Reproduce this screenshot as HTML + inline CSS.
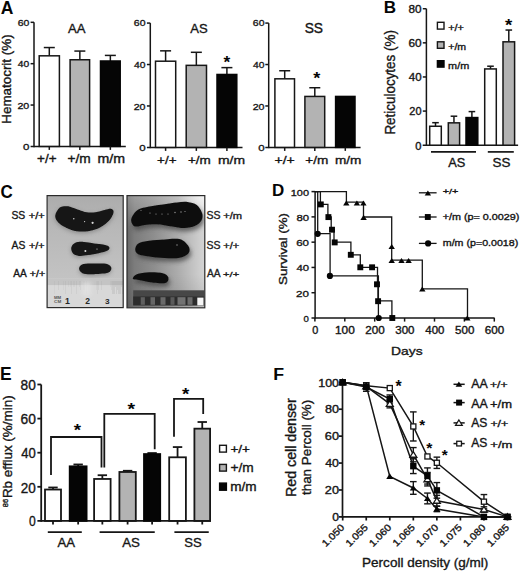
<!DOCTYPE html>
<html><head><meta charset="utf-8"><style>
html,body{margin:0;padding:0;background:#fff;width:520px;height:572px;overflow:hidden}
svg{display:block}
text{font-family:"Liberation Sans",sans-serif}
</style></head><body>
<svg width="520" height="572" viewBox="0 0 520 572">
<rect width="520" height="572" fill="#fff"/>
<line x1="34.00" y1="22.32" x2="34.00" y2="147.15" stroke="#161616" stroke-width="1.50"/>
<line x1="30.60" y1="146.40" x2="125.80" y2="146.40" stroke="#161616" stroke-width="1.50"/>
<line x1="30.60" y1="22.32" x2="34.00" y2="22.32" stroke="#161616" stroke-width="1.50"/>
<line x1="30.60" y1="63.68" x2="34.00" y2="63.68" stroke="#161616" stroke-width="1.50"/>
<line x1="30.60" y1="105.04" x2="34.00" y2="105.04" stroke="#161616" stroke-width="1.50"/>
<text x="17.67" y="25.52" font-size="9.89" textLength="11.64" lengthAdjust="spacingAndGlyphs" fill="#161616" stroke="#161616" stroke-width="0.35">60</text>
<text x="17.86" y="66.89" font-size="9.60" textLength="11.44" lengthAdjust="spacingAndGlyphs" fill="#161616" stroke="#161616" stroke-width="0.35">40</text>
<text x="17.46" y="108.79" font-size="9.75" textLength="11.85" lengthAdjust="spacingAndGlyphs" fill="#161616" stroke="#161616" stroke-width="0.35">20</text>
<text x="22.95" y="150.16" font-size="9.46" textLength="6.40" lengthAdjust="spacingAndGlyphs" fill="#161616" stroke="#161616" stroke-width="0.35">0</text>
<line x1="49.30" y1="55.82" x2="49.30" y2="47.55" stroke="#161616" stroke-width="1.50"/>
<line x1="43.80" y1="47.55" x2="54.80" y2="47.55" stroke="#161616" stroke-width="1.50"/>
<rect x="39.20" y="55.82" width="20.20" height="90.58" fill="#fff" stroke="#161616" stroke-width="1.50"/>
<line x1="49.30" y1="146.40" x2="49.30" y2="149.90" stroke="#161616" stroke-width="1.50"/>
<line x1="79.85" y1="59.75" x2="79.85" y2="51.07" stroke="#161616" stroke-width="1.50"/>
<line x1="74.35" y1="51.07" x2="85.35" y2="51.07" stroke="#161616" stroke-width="1.50"/>
<rect x="70.10" y="59.75" width="19.50" height="86.65" fill="#b3b3b3" stroke="#161616" stroke-width="1.50"/>
<line x1="79.85" y1="146.40" x2="79.85" y2="149.90" stroke="#161616" stroke-width="1.50"/>
<line x1="110.35" y1="60.99" x2="110.35" y2="55.41" stroke="#161616" stroke-width="1.50"/>
<line x1="104.85" y1="55.41" x2="115.85" y2="55.41" stroke="#161616" stroke-width="1.50"/>
<rect x="100.50" y="60.99" width="19.70" height="85.41" fill="#050505" stroke="#050505" stroke-width="1.50"/>
<line x1="110.35" y1="146.40" x2="110.35" y2="149.90" stroke="#161616" stroke-width="1.50"/>
<text x="67.97" y="32.60" font-size="13.52" textLength="17.45" lengthAdjust="spacingAndGlyphs" fill="#161616" stroke="#161616" stroke-width="0.35">AA</text>
<text x="37.14" y="163.48" font-size="11.85" textLength="19.42" lengthAdjust="spacingAndGlyphs" fill="#161616" stroke="#161616" stroke-width="0.35">+/+</text>
<text x="67.53" y="163.48" font-size="11.85" textLength="23.28" lengthAdjust="spacingAndGlyphs" fill="#161616" stroke="#161616" stroke-width="0.35">+/m</text>
<text x="97.46" y="163.48" font-size="11.85" textLength="27.58" lengthAdjust="spacingAndGlyphs" fill="#161616" stroke="#161616" stroke-width="0.35">m/m</text>
<line x1="150.30" y1="23.08" x2="150.30" y2="148.15" stroke="#161616" stroke-width="1.50"/>
<line x1="146.90" y1="147.40" x2="242.50" y2="147.40" stroke="#161616" stroke-width="1.50"/>
<line x1="146.90" y1="23.08" x2="150.30" y2="23.08" stroke="#161616" stroke-width="1.50"/>
<line x1="146.90" y1="64.52" x2="150.30" y2="64.52" stroke="#161616" stroke-width="1.50"/>
<line x1="146.90" y1="105.96" x2="150.30" y2="105.96" stroke="#161616" stroke-width="1.50"/>
<text x="133.87" y="26.28" font-size="9.89" textLength="11.64" lengthAdjust="spacingAndGlyphs" fill="#161616" stroke="#161616" stroke-width="0.35">60</text>
<text x="134.06" y="67.73" font-size="9.60" textLength="11.44" lengthAdjust="spacingAndGlyphs" fill="#161616" stroke="#161616" stroke-width="0.35">40</text>
<text x="133.66" y="109.71" font-size="9.75" textLength="11.85" lengthAdjust="spacingAndGlyphs" fill="#161616" stroke="#161616" stroke-width="0.35">20</text>
<text x="139.15" y="151.16" font-size="9.46" textLength="6.40" lengthAdjust="spacingAndGlyphs" fill="#161616" stroke="#161616" stroke-width="0.35">0</text>
<line x1="165.60" y1="61.20" x2="165.60" y2="50.84" stroke="#161616" stroke-width="1.50"/>
<line x1="160.10" y1="50.84" x2="171.10" y2="50.84" stroke="#161616" stroke-width="1.50"/>
<rect x="155.50" y="61.20" width="20.20" height="86.20" fill="#fff" stroke="#161616" stroke-width="1.50"/>
<line x1="165.60" y1="147.40" x2="165.60" y2="150.90" stroke="#161616" stroke-width="1.50"/>
<line x1="196.35" y1="65.35" x2="196.35" y2="52.30" stroke="#161616" stroke-width="1.50"/>
<line x1="190.85" y1="52.30" x2="201.85" y2="52.30" stroke="#161616" stroke-width="1.50"/>
<rect x="186.20" y="65.35" width="20.30" height="82.05" fill="#b3b3b3" stroke="#161616" stroke-width="1.50"/>
<line x1="196.35" y1="147.40" x2="196.35" y2="150.90" stroke="#161616" stroke-width="1.50"/>
<line x1="226.90" y1="74.47" x2="226.90" y2="67.63" stroke="#161616" stroke-width="1.50"/>
<line x1="221.40" y1="67.63" x2="232.40" y2="67.63" stroke="#161616" stroke-width="1.50"/>
<rect x="217.00" y="74.47" width="19.80" height="72.93" fill="#050505" stroke="#050505" stroke-width="1.50"/>
<line x1="226.90" y1="147.40" x2="226.90" y2="150.90" stroke="#161616" stroke-width="1.50"/>
<text x="190.27" y="32.57" font-size="13.70" textLength="17.43" lengthAdjust="spacingAndGlyphs" fill="#161616" stroke="#161616" stroke-width="0.35">AS</text>
<text x="157.14" y="163.69" font-size="11.44" textLength="19.42" lengthAdjust="spacingAndGlyphs" fill="#161616" stroke="#161616" stroke-width="0.35">+/+</text>
<text x="187.94" y="163.69" font-size="11.44" textLength="22.85" lengthAdjust="spacingAndGlyphs" fill="#161616" stroke="#161616" stroke-width="0.35">+/m</text>
<text x="217.98" y="163.69" font-size="11.44" textLength="27.04" lengthAdjust="spacingAndGlyphs" fill="#161616" stroke="#161616" stroke-width="0.35">m/m</text>
<line x1="268.70" y1="23.08" x2="268.70" y2="148.15" stroke="#161616" stroke-width="1.50"/>
<line x1="265.30" y1="147.40" x2="360.60" y2="147.40" stroke="#161616" stroke-width="1.50"/>
<line x1="265.30" y1="23.08" x2="268.70" y2="23.08" stroke="#161616" stroke-width="1.50"/>
<line x1="265.30" y1="64.52" x2="268.70" y2="64.52" stroke="#161616" stroke-width="1.50"/>
<line x1="265.30" y1="105.96" x2="268.70" y2="105.96" stroke="#161616" stroke-width="1.50"/>
<text x="252.87" y="26.28" font-size="9.89" textLength="11.64" lengthAdjust="spacingAndGlyphs" fill="#161616" stroke="#161616" stroke-width="0.35">60</text>
<text x="253.06" y="67.73" font-size="9.60" textLength="11.44" lengthAdjust="spacingAndGlyphs" fill="#161616" stroke="#161616" stroke-width="0.35">40</text>
<text x="252.66" y="109.71" font-size="9.75" textLength="11.85" lengthAdjust="spacingAndGlyphs" fill="#161616" stroke="#161616" stroke-width="0.35">20</text>
<text x="258.15" y="151.16" font-size="9.46" textLength="6.40" lengthAdjust="spacingAndGlyphs" fill="#161616" stroke="#161616" stroke-width="0.35">0</text>
<line x1="284.70" y1="78.82" x2="284.70" y2="70.74" stroke="#161616" stroke-width="1.50"/>
<line x1="279.20" y1="70.74" x2="290.20" y2="70.74" stroke="#161616" stroke-width="1.50"/>
<rect x="274.90" y="78.82" width="19.60" height="68.58" fill="#fff" stroke="#161616" stroke-width="1.50"/>
<line x1="284.70" y1="147.40" x2="284.70" y2="150.90" stroke="#161616" stroke-width="1.50"/>
<line x1="314.80" y1="96.43" x2="314.80" y2="87.73" stroke="#161616" stroke-width="1.50"/>
<line x1="309.30" y1="87.73" x2="320.30" y2="87.73" stroke="#161616" stroke-width="1.50"/>
<rect x="304.90" y="96.43" width="19.80" height="50.97" fill="#b3b3b3" stroke="#161616" stroke-width="1.50"/>
<line x1="314.80" y1="147.40" x2="314.80" y2="150.90" stroke="#161616" stroke-width="1.50"/>
<rect x="335.60" y="96.43" width="19.40" height="50.97" fill="#050505" stroke="#050505" stroke-width="1.50"/>
<line x1="345.30" y1="147.40" x2="345.30" y2="150.90" stroke="#161616" stroke-width="1.50"/>
<text x="304.68" y="32.56" font-size="14.12" textLength="18.36" lengthAdjust="spacingAndGlyphs" fill="#161616" stroke="#161616" stroke-width="0.35">SS</text>
<text x="274.41" y="163.79" font-size="11.44" textLength="20.38" lengthAdjust="spacingAndGlyphs" fill="#161616" stroke="#161616" stroke-width="0.35">+/+</text>
<text x="305.24" y="163.79" font-size="11.44" textLength="23.06" lengthAdjust="spacingAndGlyphs" fill="#161616" stroke="#161616" stroke-width="0.35">+/m</text>
<text x="335.00" y="163.79" font-size="11.44" textLength="26.40" lengthAdjust="spacingAndGlyphs" fill="#161616" stroke="#161616" stroke-width="0.35">m/m</text>
<text x="223.55" y="67.69" font-size="16.13" textLength="6.77" lengthAdjust="spacingAndGlyphs" font-weight="bold" fill="#050505">*</text>
<text x="313.35" y="83.82" font-size="15.59" textLength="7.07" lengthAdjust="spacingAndGlyphs" font-weight="bold" fill="#050505">*</text>
<text x="10.61" y="123.70" font-size="12.02" textLength="89.33" lengthAdjust="spacingAndGlyphs" transform="rotate(-90 10.61 123.70)" fill="#161616" stroke="#161616" stroke-width="0.35">Hematocrit (%)</text>
<text x="0.81" y="13.60" font-size="17.95" textLength="12.65" lengthAdjust="spacingAndGlyphs" font-weight="bold" fill="#050505">A</text>
<line x1="426.40" y1="8.72" x2="426.40" y2="145.95" stroke="#161616" stroke-width="1.50"/>
<line x1="422.70" y1="145.20" x2="518.10" y2="145.20" stroke="#161616" stroke-width="1.50"/>
<line x1="422.80" y1="8.72" x2="426.40" y2="8.72" stroke="#161616" stroke-width="1.50"/>
<line x1="422.80" y1="42.84" x2="426.40" y2="42.84" stroke="#161616" stroke-width="1.50"/>
<line x1="422.80" y1="76.96" x2="426.40" y2="76.96" stroke="#161616" stroke-width="1.50"/>
<line x1="422.80" y1="111.08" x2="426.40" y2="111.08" stroke="#161616" stroke-width="1.50"/>
<text x="408.49" y="13.07" font-size="10.31" textLength="13.07" lengthAdjust="spacingAndGlyphs" fill="#161616" stroke="#161616" stroke-width="0.35">80</text>
<text x="408.40" y="47.29" font-size="10.31" textLength="13.16" lengthAdjust="spacingAndGlyphs" fill="#161616" stroke="#161616" stroke-width="0.35">60</text>
<text x="408.74" y="81.41" font-size="10.31" textLength="12.81" lengthAdjust="spacingAndGlyphs" fill="#161616" stroke="#161616" stroke-width="0.35">40</text>
<text x="409.35" y="115.43" font-size="10.31" textLength="12.18" lengthAdjust="spacingAndGlyphs" fill="#161616" stroke="#161616" stroke-width="0.35">20</text>
<text x="415.37" y="150.15" font-size="10.31" textLength="6.17" lengthAdjust="spacingAndGlyphs" fill="#161616" stroke="#161616" stroke-width="0.35">0</text>
<line x1="435.50" y1="126.26" x2="435.50" y2="122.68" stroke="#161616" stroke-width="1.50"/>
<line x1="432.20" y1="122.68" x2="438.80" y2="122.68" stroke="#161616" stroke-width="1.50"/>
<rect x="429.70" y="126.26" width="11.60" height="18.94" fill="#fff" stroke="#161616" stroke-width="1.50"/>
<line x1="453.95" y1="122.85" x2="453.95" y2="116.20" stroke="#161616" stroke-width="1.50"/>
<line x1="450.65" y1="116.20" x2="457.25" y2="116.20" stroke="#161616" stroke-width="1.50"/>
<rect x="448.30" y="122.85" width="11.30" height="22.35" fill="#b3b3b3" stroke="#161616" stroke-width="1.50"/>
<line x1="471.90" y1="117.56" x2="471.90" y2="111.59" stroke="#161616" stroke-width="1.50"/>
<line x1="468.60" y1="111.59" x2="475.20" y2="111.59" stroke="#161616" stroke-width="1.50"/>
<rect x="466.00" y="117.56" width="11.80" height="27.64" fill="#050505" stroke="#050505" stroke-width="1.50"/>
<line x1="490.50" y1="68.94" x2="490.50" y2="66.21" stroke="#161616" stroke-width="1.50"/>
<line x1="487.20" y1="66.21" x2="493.80" y2="66.21" stroke="#161616" stroke-width="1.50"/>
<rect x="484.70" y="68.94" width="11.60" height="76.26" fill="#fff" stroke="#161616" stroke-width="1.50"/>
<line x1="508.80" y1="41.82" x2="508.80" y2="30.04" stroke="#161616" stroke-width="1.50"/>
<line x1="505.50" y1="30.04" x2="512.10" y2="30.04" stroke="#161616" stroke-width="1.50"/>
<rect x="503.00" y="41.82" width="11.60" height="103.38" fill="#b3b3b3" stroke="#161616" stroke-width="1.50"/>
<text x="505.05" y="31.05" font-size="16.93" textLength="7.27" lengthAdjust="spacingAndGlyphs" font-weight="bold" fill="#050505">*</text>
<line x1="431.00" y1="151.90" x2="476.00" y2="151.90" stroke="#161616" stroke-width="1.70"/>
<line x1="487.80" y1="151.90" x2="513.80" y2="151.90" stroke="#161616" stroke-width="1.70"/>
<text x="448.17" y="166.68" font-size="12.57" textLength="17.11" lengthAdjust="spacingAndGlyphs" fill="#161616" stroke="#161616" stroke-width="0.35">AS</text>
<text x="492.59" y="166.68" font-size="12.57" textLength="17.93" lengthAdjust="spacingAndGlyphs" fill="#161616" stroke="#161616" stroke-width="0.35">SS</text>
<rect x="437.40" y="22.30" width="6.60" height="6.80" fill="#fff" stroke="#161616" stroke-width="1.40"/>
<rect x="437.40" y="41.80" width="6.60" height="6.50" fill="#b3b3b3" stroke="#161616" stroke-width="1.40"/>
<rect x="437.40" y="60.70" width="6.60" height="6.40" fill="#050505" stroke="#050505" stroke-width="1.40"/>
<text x="448.27" y="31.21" font-size="9.26" textLength="15.66" lengthAdjust="spacingAndGlyphs" fill="#161616" stroke="#161616" stroke-width="0.35">+/+</text>
<text x="448.28" y="50.01" font-size="9.40" textLength="17.91" lengthAdjust="spacingAndGlyphs" fill="#161616" stroke="#161616" stroke-width="0.35">+/m</text>
<text x="448.08" y="68.91" font-size="9.53" textLength="21.14" lengthAdjust="spacingAndGlyphs" fill="#161616" stroke="#161616" stroke-width="0.35">m/m</text>
<text x="395.28" y="134.60" font-size="14.05" textLength="104.54" lengthAdjust="spacingAndGlyphs" transform="rotate(-90 395.28 134.60)" fill="#161616" stroke="#161616" stroke-width="0.35">Reticulocytes (%)</text>
<text x="383.76" y="13.40" font-size="17.30" textLength="12.32" lengthAdjust="spacingAndGlyphs" font-weight="bold" fill="#050505">B</text>
<defs>
<linearGradient id="gl" x1="0" y1="0" x2="0" y2="1">
 <stop offset="0" stop-color="#acacac"/><stop offset="0.3" stop-color="#b8b8b8"/><stop offset="0.7" stop-color="#c2c2c2"/><stop offset="1" stop-color="#c8c8c8"/>
</linearGradient>
<linearGradient id="gr" x1="0" y1="0" x2="1" y2="0">
 <stop offset="0" stop-color="#666"/><stop offset="0.1" stop-color="#7c7c7c"/><stop offset="0.35" stop-color="#8e8e8e"/><stop offset="0.65" stop-color="#acacac"/><stop offset="1" stop-color="#d6d6d6"/>
</linearGradient>
<linearGradient id="grv" x1="0" y1="0" x2="0" y2="1">
 <stop offset="0" stop-color="#fff" stop-opacity="0.25"/><stop offset="0.3" stop-color="#fff" stop-opacity="0"/><stop offset="0.7" stop-color="#000" stop-opacity="0"/><stop offset="1" stop-color="#000" stop-opacity="0.12"/>
</linearGradient>
<radialGradient id="grh" cx="1" cy="0" r="0.5">
 <stop offset="0" stop-color="#fff" stop-opacity="0.7"/><stop offset="1" stop-color="#fff" stop-opacity="0"/>
</radialGradient>
<filter id="b1" x="-20%" y="-20%" width="140%" height="140%"><feGaussianBlur stdDeviation="0.7"/></filter>
<filter id="b3" x="-30%" y="-30%" width="160%" height="160%"><feGaussianBlur stdDeviation="2.2"/></filter>
<clipPath id="cpl"><rect x="47.3" y="195.7" width="75.8" height="111.9"/></clipPath>
<clipPath id="cpr"><rect x="127" y="195.7" width="77.8" height="111.9"/></clipPath>
</defs>
<g clip-path="url(#cpl)">
<rect x="47" y="195.5" width="76.5" height="112.5" fill="url(#gl)"/>
<path d="M55.30,216.80 C55.67,214.55 57.80,210.80 59.50,209.30 C61.20,207.80 63.75,207.98 65.50,207.80 C67.25,207.62 67.73,207.58 70.00,208.20 C72.27,208.82 76.33,210.57 79.10,211.50 C81.87,212.43 83.85,213.42 86.60,213.80 C89.35,214.18 92.60,214.18 95.60,213.80 C98.60,213.42 102.08,212.08 104.60,211.50 C107.12,210.92 109.23,210.17 110.70,210.30 C112.17,210.43 113.03,211.35 113.40,212.30 C113.77,213.25 113.62,214.37 112.90,216.00 C112.18,217.63 110.98,220.08 109.10,222.10 C107.22,224.12 104.35,226.48 101.60,228.10 C98.85,229.72 95.85,230.98 92.60,231.80 C89.35,232.62 85.60,233.07 82.10,233.00 C78.60,232.93 74.87,232.35 71.60,231.40 C68.33,230.45 64.88,228.73 62.50,227.30 C60.12,225.87 58.50,224.55 57.30,222.80 C56.10,221.05 54.93,219.05 55.30,216.80 Z" fill="#5a5a5a" opacity="0.5" filter="url(#b3)"/>
<path d="M71.30,249.10 C71.67,247.30 73.25,245.25 75.30,244.30 C77.35,243.35 80.47,243.30 83.60,243.40 C86.73,243.50 90.85,244.45 94.10,244.90 C97.35,245.35 100.60,245.52 103.10,246.10 C105.60,246.68 108.35,247.40 109.10,248.40 C109.85,249.40 109.35,251.03 107.60,252.10 C105.85,253.17 101.85,254.05 98.60,254.80 C95.35,255.55 91.35,256.17 88.10,256.60 C84.85,257.03 81.60,257.65 79.10,257.40 C76.60,257.15 74.40,256.48 73.10,255.10 C71.80,253.72 70.93,250.90 71.30,249.10 Z" fill="#5a5a5a" opacity="0.5" filter="url(#b3)"/>
<path d="M79.10,270.20 C79.03,268.75 80.28,266.85 82.10,266.00 C83.92,265.15 87.02,265.25 90.00,265.10 C92.98,264.95 97.07,265.00 100.00,265.10 C102.93,265.20 105.70,264.98 107.60,265.70 C109.50,266.42 111.25,268.02 111.40,269.40 C111.55,270.78 110.40,273.02 108.50,274.00 C106.60,274.98 103.08,275.02 100.00,275.30 C96.92,275.58 92.92,275.80 90.00,275.70 C87.08,275.60 84.32,275.62 82.50,274.70 C80.68,273.78 79.17,271.65 79.10,270.20 Z" fill="#5a5a5a" opacity="0.5" filter="url(#b3)"/>
<path d="M55.30,215.30 C55.67,213.05 57.80,209.30 59.50,207.80 C61.20,206.30 63.75,206.48 65.50,206.30 C67.25,206.12 67.73,206.08 70.00,206.70 C72.27,207.32 76.33,209.07 79.10,210.00 C81.87,210.93 83.85,211.92 86.60,212.30 C89.35,212.68 92.60,212.68 95.60,212.30 C98.60,211.92 102.08,210.58 104.60,210.00 C107.12,209.42 109.23,208.67 110.70,208.80 C112.17,208.93 113.03,209.85 113.40,210.80 C113.77,211.75 113.62,212.87 112.90,214.50 C112.18,216.13 110.98,218.58 109.10,220.60 C107.22,222.62 104.35,224.98 101.60,226.60 C98.85,228.22 95.85,229.48 92.60,230.30 C89.35,231.12 85.60,231.57 82.10,231.50 C78.60,231.43 74.87,230.85 71.60,229.90 C68.33,228.95 64.88,227.23 62.50,225.80 C60.12,224.37 58.50,223.05 57.30,221.30 C56.10,219.55 54.93,217.55 55.30,215.30 Z" fill="#131313" filter="url(#b1)"/>
<path d="M71.30,247.60 C71.67,245.80 73.25,243.75 75.30,242.80 C77.35,241.85 80.47,241.80 83.60,241.90 C86.73,242.00 90.85,242.95 94.10,243.40 C97.35,243.85 100.60,244.02 103.10,244.60 C105.60,245.18 108.35,245.90 109.10,246.90 C109.85,247.90 109.35,249.53 107.60,250.60 C105.85,251.67 101.85,252.55 98.60,253.30 C95.35,254.05 91.35,254.67 88.10,255.10 C84.85,255.53 81.60,256.15 79.10,255.90 C76.60,255.65 74.40,254.98 73.10,253.60 C71.80,252.22 70.93,249.40 71.30,247.60 Z" fill="#131313" filter="url(#b1)"/>
<path d="M79.10,268.70 C79.03,267.25 80.28,265.35 82.10,264.50 C83.92,263.65 87.02,263.75 90.00,263.60 C92.98,263.45 97.07,263.50 100.00,263.60 C102.93,263.70 105.70,263.48 107.60,264.20 C109.50,264.92 111.25,266.52 111.40,267.90 C111.55,269.28 110.40,271.52 108.50,272.50 C106.60,273.48 103.08,273.52 100.00,273.80 C96.92,274.08 92.92,274.30 90.00,274.20 C87.08,274.10 84.32,274.12 82.50,273.20 C80.68,272.28 79.17,270.15 79.10,268.70 Z" fill="#131313" filter="url(#b1)"/>
<circle cx="92.6" cy="222.8" r="1.1" fill="#d8d8d8" filter="url(#b1)"/>
<circle cx="73.8" cy="218.8" r="0.7" fill="#d8d8d8" filter="url(#b1)"/>
<circle cx="85.4" cy="250.9" r="1.0" fill="#d8d8d8" filter="url(#b1)"/>
<circle cx="84.6" cy="221.6" r="0.6" fill="#d8d8d8" filter="url(#b1)"/>
<circle cx="97.0" cy="249.0" r="0.6" fill="#d8d8d8" filter="url(#b1)"/>
<rect x="47" y="278.6" width="77" height="30" fill="#d8d8d8"/>
<rect x="47" y="278.6" width="77" height="6.5" fill="#c4c4c4" filter="url(#b1)"/>
<line x1="54.5" y1="281" x2="54.5" y2="294.0" stroke="#8a8a8a" stroke-width="0.6" opacity="0.12"/>
<line x1="58.5" y1="281" x2="58.5" y2="290.0" stroke="#8a8a8a" stroke-width="0.6" opacity="0.20"/>
<line x1="63.5" y1="281" x2="63.5" y2="290.0" stroke="#8a8a8a" stroke-width="0.6" opacity="0.12"/>
<line x1="65.5" y1="281" x2="65.5" y2="294.0" stroke="#8a8a8a" stroke-width="0.6" opacity="0.20"/>
<line x1="68.5" y1="281" x2="68.5" y2="287.0" stroke="#8a8a8a" stroke-width="0.6" opacity="0.12"/>
<line x1="70.5" y1="281" x2="70.5" y2="287.0" stroke="#8a8a8a" stroke-width="0.6" opacity="0.12"/>
<line x1="71.5" y1="281" x2="71.5" y2="294.0" stroke="#8a8a8a" stroke-width="0.6" opacity="0.20"/>
<line x1="73.5" y1="281" x2="73.5" y2="287.0" stroke="#8a8a8a" stroke-width="0.6" opacity="0.12"/>
<line x1="74.5" y1="281" x2="74.5" y2="287.0" stroke="#8a8a8a" stroke-width="0.6" opacity="0.12"/>
<line x1="76.5" y1="281" x2="76.5" y2="294.0" stroke="#8a8a8a" stroke-width="0.6" opacity="0.20"/>
<line x1="79.5" y1="281" x2="79.5" y2="287.0" stroke="#8a8a8a" stroke-width="0.6" opacity="0.20"/>
<line x1="80.5" y1="281" x2="80.5" y2="290.0" stroke="#8a8a8a" stroke-width="0.6" opacity="0.20"/>
<line x1="83.5" y1="281" x2="83.5" y2="290.0" stroke="#8a8a8a" stroke-width="0.6" opacity="0.12"/>
<line x1="84.5" y1="281" x2="84.5" y2="290.0" stroke="#8a8a8a" stroke-width="0.6" opacity="0.12"/>
<line x1="86.5" y1="281" x2="86.5" y2="294.0" stroke="#8a8a8a" stroke-width="0.6" opacity="0.12"/>
<line x1="96.5" y1="281" x2="96.5" y2="290.0" stroke="#8a8a8a" stroke-width="0.6" opacity="0.12"/>
<line x1="97.5" y1="281" x2="97.5" y2="294.0" stroke="#8a8a8a" stroke-width="0.6" opacity="0.20"/>
<line x1="98.5" y1="281" x2="98.5" y2="290.0" stroke="#8a8a8a" stroke-width="0.6" opacity="0.20"/>
<line x1="101.5" y1="281" x2="101.5" y2="290.0" stroke="#8a8a8a" stroke-width="0.6" opacity="0.20"/>
<line x1="110.5" y1="281" x2="110.5" y2="287.0" stroke="#8a8a8a" stroke-width="0.6" opacity="0.12"/>
<line x1="111.5" y1="281" x2="111.5" y2="290.0" stroke="#8a8a8a" stroke-width="0.6" opacity="0.20"/>
<line x1="112.5" y1="281" x2="112.5" y2="294.0" stroke="#8a8a8a" stroke-width="0.6" opacity="0.30"/>
<line x1="113.5" y1="281" x2="113.5" y2="294.0" stroke="#8a8a8a" stroke-width="0.6" opacity="0.30"/>
<line x1="114.5" y1="281" x2="114.5" y2="294.0" stroke="#8a8a8a" stroke-width="0.6" opacity="0.30"/>
<line x1="115.5" y1="281" x2="115.5" y2="287.0" stroke="#8a8a8a" stroke-width="0.6" opacity="0.30"/>
<line x1="116.5" y1="281" x2="116.5" y2="294.0" stroke="#8a8a8a" stroke-width="0.6" opacity="0.30"/>
<line x1="117.5" y1="281" x2="117.5" y2="290.0" stroke="#8a8a8a" stroke-width="0.6" opacity="0.30"/>
<line x1="118.5" y1="281" x2="118.5" y2="294.0" stroke="#8a8a8a" stroke-width="0.6" opacity="0.30"/>
<line x1="119.5" y1="281" x2="119.5" y2="294.0" stroke="#8a8a8a" stroke-width="0.6" opacity="0.30"/>
<line x1="120.5" y1="281" x2="120.5" y2="294.0" stroke="#8a8a8a" stroke-width="0.6" opacity="0.30"/>
<line x1="121.5" y1="281" x2="121.5" y2="287.0" stroke="#8a8a8a" stroke-width="0.6" opacity="0.30"/>
<line x1="122.5" y1="281" x2="122.5" y2="294.0" stroke="#8a8a8a" stroke-width="0.6" opacity="0.30"/>
<rect x="82" y="282" width="9" height="14" fill="#e4e4e4" opacity="0.7" filter="url(#b3)"/>
</g>
<text x="65.00" y="304.05" font-size="8.29" textLength="4.90" lengthAdjust="spacingAndGlyphs" font-weight="bold" fill="#262626">1</text>
<text x="85.15" y="304.05" font-size="8.16" textLength="4.74" lengthAdjust="spacingAndGlyphs" font-weight="bold" fill="#262626">2</text>
<text x="104.96" y="303.96" font-size="8.03" textLength="4.59" lengthAdjust="spacingAndGlyphs" font-weight="bold" fill="#262626">3</text>
<text x="54.01" y="299.30" font-size="4.36" textLength="7.18" lengthAdjust="spacingAndGlyphs" font-weight="bold" fill="#555">MM</text>
<text x="54.11" y="303.46" font-size="4.24" textLength="7.09" lengthAdjust="spacingAndGlyphs" font-weight="bold" fill="#555">CM</text>
<rect x="47.10" y="195.60" width="76.10" height="112.00" fill="none" stroke="#2a2a2a" stroke-width="1.20"/>
<g clip-path="url(#cpr)">
<rect x="126.5" y="195.5" width="79" height="112.5" fill="url(#gr)"/>
<rect x="126.5" y="195.5" width="79" height="112.5" fill="url(#grv)"/>
<rect x="150" y="195.5" width="56" height="40" fill="url(#grh)"/>
<path d="M132.90,225.40 C132.40,223.73 132.55,222.05 133.70,220.00 C134.85,217.95 136.98,214.77 139.80,213.10 C142.62,211.43 146.23,210.90 150.60,210.00 C154.97,209.10 161.38,208.38 166.00,207.70 C170.62,207.02 174.47,206.28 178.30,205.90 C182.13,205.52 185.67,204.97 189.00,205.40 C192.33,205.83 195.85,206.57 198.30,208.50 C200.75,210.43 202.93,214.43 203.70,217.00 C204.47,219.57 204.07,221.85 202.90,223.90 C201.73,225.95 199.52,228.02 196.70,229.30 C193.88,230.58 189.83,231.48 186.00,231.60 C182.17,231.72 178.32,230.65 173.70,230.00 C169.08,229.35 162.92,227.95 158.30,227.70 C153.68,227.45 149.60,228.12 146.00,228.50 C142.40,228.88 138.88,230.52 136.70,230.00 C134.52,229.48 133.40,227.07 132.90,225.40 Z" fill="#404040" opacity="0.7" filter="url(#b3)"/>
<path d="M136.70,253.10 C136.70,251.32 137.48,248.47 139.80,247.00 C142.12,245.53 146.23,244.95 150.60,244.30 C154.97,243.65 161.65,243.43 166.00,243.10 C170.35,242.77 173.63,242.17 176.70,242.30 C179.77,242.43 182.08,242.48 184.40,243.90 C186.72,245.32 189.70,248.62 190.60,250.80 C191.50,252.98 191.35,255.25 189.80,257.00 C188.25,258.75 185.27,260.53 181.30,261.30 C177.33,262.07 171.12,261.82 166.00,261.60 C160.88,261.38 154.97,260.65 150.60,260.00 C146.23,259.35 142.12,258.85 139.80,257.70 C137.48,256.55 136.70,254.88 136.70,253.10 Z" fill="#404040" opacity="0.7" filter="url(#b3)"/>
<path d="M134.40,281.60 C134.78,280.70 135.60,278.68 138.30,277.70 C141.00,276.72 146.25,275.87 150.60,275.70 C154.95,275.53 161.20,275.85 164.40,276.70 C167.60,277.55 169.28,279.22 169.80,280.80 C170.32,282.38 169.93,285.30 167.50,286.20 C165.07,287.10 159.30,286.58 155.20,286.20 C151.10,285.82 146.10,284.42 142.90,283.90 C139.70,283.38 137.42,283.48 136.00,283.10 C134.58,282.72 134.02,282.50 134.40,281.60 Z" fill="#404040" opacity="0.7" filter="url(#b3)"/>
<path d="M131.40,221.90 C130.90,220.23 131.05,218.55 132.20,216.50 C133.35,214.45 135.48,211.27 138.30,209.60 C141.12,207.93 144.73,207.40 149.10,206.50 C153.47,205.60 159.88,204.88 164.50,204.20 C169.12,203.52 172.97,202.78 176.80,202.40 C180.63,202.02 184.17,201.47 187.50,201.90 C190.83,202.33 194.35,203.07 196.80,205.00 C199.25,206.93 201.43,210.93 202.20,213.50 C202.97,216.07 202.57,218.35 201.40,220.40 C200.23,222.45 198.02,224.52 195.20,225.80 C192.38,227.08 188.33,227.98 184.50,228.10 C180.67,228.22 176.82,227.15 172.20,226.50 C167.58,225.85 161.42,224.45 156.80,224.20 C152.18,223.95 148.10,224.62 144.50,225.00 C140.90,225.38 137.38,227.02 135.20,226.50 C133.02,225.98 131.90,223.57 131.40,221.90 Z" fill="#111" filter="url(#b1)"/>
<path d="M135.20,249.60 C135.20,247.82 135.98,244.97 138.30,243.50 C140.62,242.03 144.73,241.45 149.10,240.80 C153.47,240.15 160.15,239.93 164.50,239.60 C168.85,239.27 172.13,238.67 175.20,238.80 C178.27,238.93 180.58,238.98 182.90,240.40 C185.22,241.82 188.20,245.12 189.10,247.30 C190.00,249.48 189.85,251.75 188.30,253.50 C186.75,255.25 183.77,257.03 179.80,257.80 C175.83,258.57 169.62,258.32 164.50,258.10 C159.38,257.88 153.47,257.15 149.10,256.50 C144.73,255.85 140.62,255.35 138.30,254.20 C135.98,253.05 135.20,251.38 135.20,249.60 Z" fill="#111" filter="url(#b1)"/>
<path d="M132.90,278.10 C133.28,277.20 134.10,275.18 136.80,274.20 C139.50,273.22 144.75,272.37 149.10,272.20 C153.45,272.03 159.70,272.35 162.90,273.20 C166.10,274.05 167.78,275.72 168.30,277.30 C168.82,278.88 168.43,281.80 166.00,282.70 C163.57,283.60 157.80,283.08 153.70,282.70 C149.60,282.32 144.60,280.92 141.40,280.40 C138.20,279.88 135.92,279.98 134.50,279.60 C133.08,279.22 132.52,279.00 132.90,278.10 Z" fill="#111" filter="url(#b1)"/>
<circle cx="150.0" cy="213.0" r="0.6" fill="#9a9a9a" filter="url(#b1)"/>
<circle cx="156.0" cy="214.0" r="0.6" fill="#9a9a9a" filter="url(#b1)"/>
<circle cx="162.0" cy="214.0" r="0.6" fill="#9a9a9a" filter="url(#b1)"/>
<circle cx="168.0" cy="214.0" r="0.6" fill="#9a9a9a" filter="url(#b1)"/>
<circle cx="175.0" cy="212.5" r="0.7" fill="#9a9a9a" filter="url(#b1)"/>
<circle cx="181.0" cy="212.0" r="0.7" fill="#9a9a9a" filter="url(#b1)"/>
<circle cx="185.0" cy="211.5" r="0.6" fill="#9a9a9a" filter="url(#b1)"/>
<circle cx="141.0" cy="210.5" r="0.5" fill="#9a9a9a" filter="url(#b1)"/>
<circle cx="177.0" cy="245.0" r="0.7" fill="#9a9a9a" filter="url(#b1)"/>
<rect x="133.2" y="290.3" width="71" height="15.2" fill="#474747" filter="url(#b1)"/>
<rect x="133.2" y="296.5" width="71" height="8.8" fill="#2c2c2c"/>
<rect x="140.7" y="297.2" width="4.2" height="7.6" fill="#5e5e5e" filter="url(#b1)"/>
<rect x="150.5" y="297.2" width="4.5" height="7.6" fill="#666" filter="url(#b1)"/>
<rect x="160.5" y="297.2" width="5.0" height="7.6" fill="#6a6a6a" filter="url(#b1)"/>
<rect x="170.5" y="297.2" width="4.0" height="7.6" fill="#5a5a5a" filter="url(#b1)"/>
<rect x="177.5" y="297.2" width="8.0" height="7.6" fill="#727272" filter="url(#b1)"/>
<rect x="187.5" y="297.2" width="5.0" height="7.6" fill="#6c6c6c" filter="url(#b1)"/>
<rect x="197.3" y="297.6" width="6.2" height="7.8" fill="#f6f6f6" filter="url(#b1)"/>
</g>
<rect x="127.00" y="195.60" width="77.80" height="112.20" fill="none" stroke="#2a2a2a" stroke-width="1.20"/>
<text x="11.43" y="218.99" font-size="11.02" textLength="13.85" lengthAdjust="spacingAndGlyphs" fill="#161616" stroke="#161616" stroke-width="0.35">SS</text>
<text x="28.76" y="219.21" font-size="8.85" textLength="15.88" lengthAdjust="spacingAndGlyphs" fill="#161616" stroke="#161616" stroke-width="0.35">+/+</text>
<text x="11.58" y="248.59" font-size="11.16" textLength="13.79" lengthAdjust="spacingAndGlyphs" fill="#161616" stroke="#161616" stroke-width="0.35">AS</text>
<text x="28.98" y="248.61" font-size="8.71" textLength="15.45" lengthAdjust="spacingAndGlyphs" fill="#161616" stroke="#161616" stroke-width="0.35">+/+</text>
<text x="13.18" y="276.60" font-size="10.17" textLength="13.54" lengthAdjust="spacingAndGlyphs" fill="#161616" stroke="#161616" stroke-width="0.35">AA</text>
<text x="29.89" y="276.72" font-size="8.58" textLength="15.23" lengthAdjust="spacingAndGlyphs" fill="#161616" stroke="#161616" stroke-width="0.35">+/+</text>
<text x="206.42" y="219.10" font-size="10.31" textLength="14.06" lengthAdjust="spacingAndGlyphs" fill="#222" stroke="#222" stroke-width="0.35">SS</text>
<text x="223.26" y="219.12" font-size="8.58" textLength="18.88" lengthAdjust="spacingAndGlyphs" fill="#222" stroke="#222" stroke-width="0.35">+/m</text>
<text x="206.42" y="248.50" font-size="10.31" textLength="14.06" lengthAdjust="spacingAndGlyphs" fill="#222" stroke="#222" stroke-width="0.35">SS</text>
<text x="223.26" y="248.72" font-size="8.58" textLength="15.88" lengthAdjust="spacingAndGlyphs" fill="#222" stroke="#222" stroke-width="0.35">+/+</text>
<text x="206.88" y="276.90" font-size="10.17" textLength="13.54" lengthAdjust="spacingAndGlyphs" fill="#222" stroke="#222" stroke-width="0.35">AA</text>
<text x="223.06" y="276.92" font-size="8.03" textLength="16.09" lengthAdjust="spacingAndGlyphs" fill="#222" stroke="#222" stroke-width="0.35">+/+</text>
<text x="0.60" y="198.02" font-size="18.08" textLength="12.26" lengthAdjust="spacingAndGlyphs" font-weight="bold" fill="#050505">C</text>
<line x1="315.10" y1="191.60" x2="315.10" y2="318.75" stroke="#161616" stroke-width="1.50"/>
<line x1="311.50" y1="318.00" x2="494.60" y2="318.00" stroke="#161616" stroke-width="1.50"/>
<line x1="311.50" y1="191.60" x2="315.10" y2="191.60" stroke="#161616" stroke-width="1.50"/>
<line x1="311.50" y1="216.88" x2="315.10" y2="216.88" stroke="#161616" stroke-width="1.50"/>
<line x1="311.50" y1="242.16" x2="315.10" y2="242.16" stroke="#161616" stroke-width="1.50"/>
<line x1="311.50" y1="267.44" x2="315.10" y2="267.44" stroke="#161616" stroke-width="1.50"/>
<line x1="311.50" y1="292.72" x2="315.10" y2="292.72" stroke="#161616" stroke-width="1.50"/>
<text x="290.77" y="196.00" font-size="9.89" textLength="18.26" lengthAdjust="spacingAndGlyphs" fill="#161616" stroke="#161616" stroke-width="0.35">100</text>
<text x="296.41" y="220.78" font-size="9.89" textLength="12.64" lengthAdjust="spacingAndGlyphs" fill="#161616" stroke="#161616" stroke-width="0.35">80</text>
<text x="296.21" y="246.06" font-size="9.89" textLength="12.84" lengthAdjust="spacingAndGlyphs" fill="#161616" stroke="#161616" stroke-width="0.35">60</text>
<text x="296.44" y="271.34" font-size="9.89" textLength="12.60" lengthAdjust="spacingAndGlyphs" fill="#161616" stroke="#161616" stroke-width="0.35">40</text>
<text x="296.11" y="296.62" font-size="9.89" textLength="12.94" lengthAdjust="spacingAndGlyphs" fill="#161616" stroke="#161616" stroke-width="0.35">20</text>
<text x="303.62" y="322.20" font-size="9.89" textLength="5.35" lengthAdjust="spacingAndGlyphs" fill="#161616" stroke="#161616" stroke-width="0.35">0</text>
<line x1="314.90" y1="318.00" x2="314.90" y2="321.60" stroke="#161616" stroke-width="1.50"/>
<text x="312.18" y="334.00" font-size="10.03" textLength="6.05" lengthAdjust="spacingAndGlyphs" fill="#161616" stroke="#161616" stroke-width="0.35">0</text>
<line x1="344.80" y1="318.00" x2="344.80" y2="321.60" stroke="#161616" stroke-width="1.50"/>
<text x="335.00" y="334.00" font-size="10.03" textLength="19.77" lengthAdjust="spacingAndGlyphs" fill="#161616" stroke="#161616" stroke-width="0.35">100</text>
<line x1="374.70" y1="318.00" x2="374.70" y2="321.60" stroke="#161616" stroke-width="1.50"/>
<text x="365.21" y="334.00" font-size="10.03" textLength="19.44" lengthAdjust="spacingAndGlyphs" fill="#161616" stroke="#161616" stroke-width="0.35">200</text>
<line x1="404.60" y1="318.00" x2="404.60" y2="321.60" stroke="#161616" stroke-width="1.50"/>
<text x="395.26" y="334.00" font-size="10.03" textLength="19.29" lengthAdjust="spacingAndGlyphs" fill="#161616" stroke="#161616" stroke-width="0.35">300</text>
<line x1="434.50" y1="318.00" x2="434.50" y2="321.60" stroke="#161616" stroke-width="1.50"/>
<text x="425.34" y="334.00" font-size="10.03" textLength="19.11" lengthAdjust="spacingAndGlyphs" fill="#161616" stroke="#161616" stroke-width="0.35">400</text>
<line x1="464.40" y1="318.00" x2="464.40" y2="321.60" stroke="#161616" stroke-width="1.50"/>
<text x="455.04" y="334.00" font-size="10.03" textLength="19.32" lengthAdjust="spacingAndGlyphs" fill="#161616" stroke="#161616" stroke-width="0.35">500</text>
<line x1="494.30" y1="318.00" x2="494.30" y2="321.60" stroke="#161616" stroke-width="1.50"/>
<text x="484.81" y="334.00" font-size="10.03" textLength="19.45" lengthAdjust="spacingAndGlyphs" fill="#161616" stroke="#161616" stroke-width="0.35">600</text>
<text x="391.06" y="355.37" font-size="11.73" textLength="31.64" lengthAdjust="spacingAndGlyphs" fill="#161616" stroke="#161616" stroke-width="0.35">Days</text>
<text x="286.57" y="285.01" font-size="11.27" textLength="72.04" lengthAdjust="spacingAndGlyphs" transform="rotate(-90 286.57 285.01)" fill="#161616" stroke="#161616" stroke-width="0.35">Survival (%)</text>
<text x="272.07" y="196.40" font-size="15.70" textLength="12.25" lengthAdjust="spacingAndGlyphs" font-weight="bold" fill="#050505">D</text>
<path d="M315.1,191.6 H346.4 V202.2 H363.5 V217.0 H391.7 V260.2 H422.3 V288.8 H467.5 V318" stroke="#161616" stroke-width="1.30" fill="none"/>
<path d="M315.1,191.6 H320.4 V204.3 H327.9 V217.0 H331.2 V229.5 H334.0 V242.2 H350.9 V254.8 H360.3 V267.3 H377.5 V284.3 H378.0 V300.9 H391.9 V318" stroke="#161616" stroke-width="1.30" fill="none"/>
<path d="M315.1,191.6 H317.7 V233.7 H330.1 V275.8 H378.4 V318" stroke="#161616" stroke-width="1.30" fill="none"/>
<path d="M346.30,200.38 L349.50,205.50 L343.10,205.50 Z" fill="#050505"/>
<path d="M356.90,200.38 L360.10,205.50 L353.70,205.50 Z" fill="#050505"/>
<path d="M363.40,200.38 L366.60,205.50 L360.20,205.50 Z" fill="#050505"/>
<path d="M363.60,214.78 L366.80,219.90 L360.40,219.90 Z" fill="#050505"/>
<path d="M391.70,243.98 L394.90,249.10 L388.50,249.10 Z" fill="#050505"/>
<path d="M391.70,257.88 L394.90,263.00 L388.50,263.00 Z" fill="#050505"/>
<path d="M401.50,257.88 L404.70,263.00 L398.30,263.00 Z" fill="#050505"/>
<path d="M408.60,257.88 L411.80,263.00 L405.40,263.00 Z" fill="#050505"/>
<path d="M422.30,286.48 L425.50,291.60 L419.10,291.60 Z" fill="#050505"/>
<path d="M467.30,315.48 L470.50,320.60 L464.10,320.60 Z" fill="#050505"/>
<rect x="317.85" y="201.45" width="5.90" height="5.90" fill="#050505"/>
<rect x="325.45" y="214.15" width="5.90" height="5.90" fill="#050505"/>
<rect x="329.05" y="226.75" width="5.90" height="5.90" fill="#050505"/>
<rect x="331.75" y="239.45" width="5.90" height="5.90" fill="#050505"/>
<rect x="347.85" y="251.85" width="5.90" height="5.90" fill="#050505"/>
<rect x="357.35" y="264.35" width="5.90" height="5.90" fill="#050505"/>
<rect x="369.15" y="264.35" width="5.90" height="5.90" fill="#050505"/>
<rect x="374.05" y="281.35" width="5.90" height="5.90" fill="#050505"/>
<rect x="375.15" y="298.25" width="5.90" height="5.90" fill="#050505"/>
<rect x="389.35" y="315.05" width="5.90" height="5.90" fill="#050505"/>
<circle cx="317.70" cy="233.80" r="3.10" fill="#050505"/>
<circle cx="329.90" cy="275.90" r="3.10" fill="#050505"/>
<circle cx="378.70" cy="318.00" r="3.10" fill="#050505"/>
<line x1="418.90" y1="192.80" x2="436.60" y2="192.80" stroke="#161616" stroke-width="1.30"/>
<path d="M427.90,190.38 L431.10,195.50 L424.70,195.50 Z" fill="#050505"/>
<line x1="418.90" y1="217.00" x2="436.60" y2="217.00" stroke="#161616" stroke-width="1.30"/>
<rect x="424.85" y="214.05" width="5.90" height="5.90" fill="#050505"/>
<line x1="418.90" y1="243.40" x2="436.60" y2="243.40" stroke="#161616" stroke-width="1.30"/>
<circle cx="428.10" cy="243.40" r="3.10" fill="#050505"/>
<text x="442.77" y="193.82" font-size="8.03" textLength="15.66" lengthAdjust="spacingAndGlyphs" fill="#161616" stroke="#161616" stroke-width="0.35">+/+</text>
<text x="442.67" y="219.97" font-size="8.80" textLength="76.69" lengthAdjust="spacingAndGlyphs" fill="#161616" stroke="#161616" stroke-width="0.35">+/m (p= 0.0029)</text>
<text x="442.79" y="246.39" font-size="9.23" textLength="75.47" lengthAdjust="spacingAndGlyphs" fill="#161616" stroke="#161616" stroke-width="0.35">m/m (p=0.0018)</text>
<line x1="41.20" y1="384.50" x2="41.20" y2="521.80" stroke="#161616" stroke-width="1.80"/>
<line x1="37.40" y1="520.90" x2="211.00" y2="520.90" stroke="#161616" stroke-width="1.80"/>
<line x1="37.40" y1="384.50" x2="41.20" y2="384.50" stroke="#161616" stroke-width="1.80"/>
<line x1="37.40" y1="418.60" x2="41.20" y2="418.60" stroke="#161616" stroke-width="1.80"/>
<line x1="37.40" y1="452.70" x2="41.20" y2="452.70" stroke="#161616" stroke-width="1.80"/>
<line x1="37.40" y1="486.80" x2="41.20" y2="486.80" stroke="#161616" stroke-width="1.80"/>
<text x="20.60" y="390.16" font-size="14.12" textLength="15.23" lengthAdjust="spacingAndGlyphs" fill="#161616" stroke="#161616" stroke-width="0.35">80</text>
<text x="20.50" y="424.26" font-size="14.12" textLength="15.34" lengthAdjust="spacingAndGlyphs" fill="#161616" stroke="#161616" stroke-width="0.35">60</text>
<text x="21.30" y="458.46" font-size="14.12" textLength="14.51" lengthAdjust="spacingAndGlyphs" fill="#161616" stroke="#161616" stroke-width="0.35">40</text>
<text x="20.82" y="492.56" font-size="14.12" textLength="15.01" lengthAdjust="spacingAndGlyphs" fill="#161616" stroke="#161616" stroke-width="0.35">20</text>
<text x="29.03" y="526.46" font-size="14.12" textLength="6.75" lengthAdjust="spacingAndGlyphs" fill="#161616" stroke="#161616" stroke-width="0.35">0</text>
<line x1="53.00" y1="489.53" x2="53.00" y2="487.48" stroke="#161616" stroke-width="1.80"/>
<line x1="48.30" y1="487.48" x2="57.70" y2="487.48" stroke="#161616" stroke-width="1.80"/>
<rect x="45.00" y="489.53" width="16.00" height="31.37" fill="#fff" stroke="#161616" stroke-width="1.80"/>
<line x1="53.00" y1="520.90" x2="53.00" y2="524.50" stroke="#161616" stroke-width="1.80"/>
<line x1="78.15" y1="466.34" x2="78.15" y2="464.46" stroke="#161616" stroke-width="1.80"/>
<line x1="73.45" y1="464.46" x2="82.85" y2="464.46" stroke="#161616" stroke-width="1.80"/>
<rect x="69.70" y="466.34" width="16.90" height="54.56" fill="#050505" stroke="#050505" stroke-width="1.80"/>
<line x1="78.15" y1="520.90" x2="78.15" y2="524.50" stroke="#161616" stroke-width="1.80"/>
<line x1="102.35" y1="478.96" x2="102.35" y2="475.21" stroke="#161616" stroke-width="1.80"/>
<line x1="97.65" y1="475.21" x2="107.05" y2="475.21" stroke="#161616" stroke-width="1.80"/>
<rect x="94.10" y="478.96" width="16.50" height="41.94" fill="#fff" stroke="#161616" stroke-width="1.80"/>
<line x1="102.35" y1="520.90" x2="102.35" y2="524.50" stroke="#161616" stroke-width="1.80"/>
<line x1="127.60" y1="471.97" x2="127.60" y2="470.77" stroke="#161616" stroke-width="1.80"/>
<line x1="122.90" y1="470.77" x2="132.30" y2="470.77" stroke="#161616" stroke-width="1.80"/>
<rect x="119.40" y="471.97" width="16.40" height="48.93" fill="#b3b3b3" stroke="#161616" stroke-width="1.80"/>
<line x1="127.60" y1="520.90" x2="127.60" y2="524.50" stroke="#161616" stroke-width="1.80"/>
<line x1="152.10" y1="454.06" x2="152.10" y2="453.04" stroke="#161616" stroke-width="1.80"/>
<line x1="147.40" y1="453.04" x2="156.80" y2="453.04" stroke="#161616" stroke-width="1.80"/>
<rect x="144.00" y="454.06" width="16.20" height="66.84" fill="#050505" stroke="#050505" stroke-width="1.80"/>
<line x1="152.10" y1="520.90" x2="152.10" y2="524.50" stroke="#161616" stroke-width="1.80"/>
<line x1="177.55" y1="457.30" x2="177.55" y2="447.07" stroke="#161616" stroke-width="1.80"/>
<line x1="172.85" y1="447.07" x2="182.25" y2="447.07" stroke="#161616" stroke-width="1.80"/>
<rect x="169.20" y="457.30" width="16.70" height="63.60" fill="#fff" stroke="#161616" stroke-width="1.80"/>
<line x1="177.55" y1="520.90" x2="177.55" y2="524.50" stroke="#161616" stroke-width="1.80"/>
<line x1="202.25" y1="428.66" x2="202.25" y2="422.01" stroke="#161616" stroke-width="1.80"/>
<line x1="197.55" y1="422.01" x2="206.95" y2="422.01" stroke="#161616" stroke-width="1.80"/>
<rect x="194.40" y="428.66" width="15.70" height="92.24" fill="#b3b3b3" stroke="#161616" stroke-width="1.80"/>
<line x1="202.25" y1="520.90" x2="202.25" y2="524.50" stroke="#161616" stroke-width="1.80"/>
<path d="M51.0,474.9 V437.0 H101.5 V467.4" stroke="#161616" stroke-width="1.80" fill="none"/>
<path d="M104.3,467.4 V413.9 H154.7 V449.3" stroke="#161616" stroke-width="1.80" fill="none"/>
<path d="M174.0,436.7 V398.9 H203.2 V413.9" stroke="#161616" stroke-width="1.80" fill="none"/>
<text x="73.85" y="436.41" font-size="15.86" textLength="7.27" lengthAdjust="spacingAndGlyphs" font-weight="bold" fill="#050505">*</text>
<text x="127.44" y="414.66" font-size="16.66" textLength="7.58" lengthAdjust="spacingAndGlyphs" font-weight="bold" fill="#050505">*</text>
<text x="181.95" y="400.22" font-size="15.59" textLength="7.27" lengthAdjust="spacingAndGlyphs" font-weight="bold" fill="#050505">*</text>
<line x1="47.80" y1="532.10" x2="81.80" y2="532.10" stroke="#161616" stroke-width="1.80"/>
<line x1="99.60" y1="532.10" x2="154.75" y2="532.10" stroke="#161616" stroke-width="1.80"/>
<line x1="174.40" y1="532.10" x2="208.75" y2="532.10" stroke="#161616" stroke-width="1.80"/>
<text x="57.57" y="547.30" font-size="13.66" textLength="17.55" lengthAdjust="spacingAndGlyphs" fill="#161616" stroke="#161616" stroke-width="0.35">AA</text>
<text x="122.17" y="547.17" font-size="13.28" textLength="17.74" lengthAdjust="spacingAndGlyphs" fill="#161616" stroke="#161616" stroke-width="0.35">AS</text>
<text x="184.25" y="547.37" font-size="13.56" textLength="17.50" lengthAdjust="spacingAndGlyphs" fill="#161616" stroke="#161616" stroke-width="0.35">SS</text>
<rect x="219.60" y="445.30" width="6.80" height="6.80" fill="#fff" stroke="#161616" stroke-width="1.40"/>
<rect x="219.60" y="464.40" width="6.80" height="6.70" fill="#b3b3b3" stroke="#161616" stroke-width="1.40"/>
<rect x="219.60" y="483.10" width="6.80" height="7.10" fill="#050505" stroke="#050505" stroke-width="1.40"/>
<text x="230.44" y="452.69" font-size="10.76" textLength="19.53" lengthAdjust="spacingAndGlyphs" fill="#161616" stroke="#161616" stroke-width="0.35">+/+</text>
<text x="230.43" y="471.67" font-size="13.07" textLength="23.28" lengthAdjust="spacingAndGlyphs" fill="#161616" stroke="#161616" stroke-width="0.35">+/m</text>
<text x="230.20" y="490.98" font-size="11.85" textLength="26.40" lengthAdjust="spacingAndGlyphs" fill="#161616" stroke="#161616" stroke-width="0.35">m/m</text>
<text x="11.93" y="498.10" font-size="12.88" textLength="102.73" lengthAdjust="spacingAndGlyphs" transform="rotate(-90 11.93 498.10)" fill="#161616" stroke="#161616" stroke-width="0.35">Rb efflux (%/min)</text>
<text x="7.82" y="507.13" font-size="8.05" textLength="8.36" lengthAdjust="spacingAndGlyphs" transform="rotate(-90 7.82 507.13)" fill="#161616" stroke="#161616" stroke-width="0.35">86</text>
<text x="-0.07" y="380.10" font-size="18.17" textLength="11.65" lengthAdjust="spacingAndGlyphs" font-weight="bold" fill="#050505">E</text>
<line x1="342.50" y1="382.30" x2="342.50" y2="517.75" stroke="#161616" stroke-width="1.70"/>
<line x1="338.90" y1="516.90" x2="511.40" y2="516.90" stroke="#161616" stroke-width="1.70"/>
<line x1="338.90" y1="382.30" x2="342.50" y2="382.30" stroke="#161616" stroke-width="1.70"/>
<line x1="338.90" y1="409.22" x2="342.50" y2="409.22" stroke="#161616" stroke-width="1.70"/>
<line x1="338.90" y1="436.14" x2="342.50" y2="436.14" stroke="#161616" stroke-width="1.70"/>
<line x1="338.90" y1="463.06" x2="342.50" y2="463.06" stroke="#161616" stroke-width="1.70"/>
<line x1="338.90" y1="489.98" x2="342.50" y2="489.98" stroke="#161616" stroke-width="1.70"/>
<text x="318.25" y="387.10" font-size="10.17" textLength="20.73" lengthAdjust="spacingAndGlyphs" fill="#161616" stroke="#161616" stroke-width="0.35">100</text>
<text x="324.95" y="413.32" font-size="10.17" textLength="14.04" lengthAdjust="spacingAndGlyphs" fill="#161616" stroke="#161616" stroke-width="0.35">80</text>
<text x="324.85" y="440.24" font-size="10.17" textLength="14.14" lengthAdjust="spacingAndGlyphs" fill="#161616" stroke="#161616" stroke-width="0.35">60</text>
<text x="325.22" y="467.16" font-size="10.17" textLength="13.77" lengthAdjust="spacingAndGlyphs" fill="#161616" stroke="#161616" stroke-width="0.35">40</text>
<text x="324.86" y="494.08" font-size="10.17" textLength="14.14" lengthAdjust="spacingAndGlyphs" fill="#161616" stroke="#161616" stroke-width="0.35">20</text>
<text x="332.23" y="521.00" font-size="10.17" textLength="6.75" lengthAdjust="spacingAndGlyphs" fill="#161616" stroke="#161616" stroke-width="0.35">0</text>
<line x1="342.70" y1="516.90" x2="342.70" y2="520.50" stroke="#161616" stroke-width="1.70"/>
<text x="344.90" y="528.10" font-size="9.60" text-anchor="end" textLength="26.91" lengthAdjust="spacingAndGlyphs" transform="rotate(-45 344.90 528.10)" fill="#161616" stroke="#161616" stroke-width="0.35">1.050</text>
<line x1="366.24" y1="516.90" x2="366.24" y2="520.50" stroke="#161616" stroke-width="1.70"/>
<text x="368.44" y="528.10" font-size="9.60" text-anchor="end" textLength="26.91" lengthAdjust="spacingAndGlyphs" transform="rotate(-45 368.44 528.10)" fill="#161616" stroke="#161616" stroke-width="0.35">1.055</text>
<line x1="389.78" y1="516.90" x2="389.78" y2="520.50" stroke="#161616" stroke-width="1.70"/>
<text x="391.98" y="528.10" font-size="9.60" text-anchor="end" textLength="26.91" lengthAdjust="spacingAndGlyphs" transform="rotate(-45 391.98 528.10)" fill="#161616" stroke="#161616" stroke-width="0.35">1.060</text>
<line x1="413.32" y1="516.90" x2="413.32" y2="520.50" stroke="#161616" stroke-width="1.70"/>
<text x="415.52" y="528.10" font-size="9.60" text-anchor="end" textLength="26.91" lengthAdjust="spacingAndGlyphs" transform="rotate(-45 415.52 528.10)" fill="#161616" stroke="#161616" stroke-width="0.35">1.065</text>
<line x1="436.86" y1="516.90" x2="436.86" y2="520.50" stroke="#161616" stroke-width="1.70"/>
<text x="439.06" y="528.10" font-size="9.60" text-anchor="end" textLength="26.91" lengthAdjust="spacingAndGlyphs" transform="rotate(-45 439.06 528.10)" fill="#161616" stroke="#161616" stroke-width="0.35">1.070</text>
<line x1="460.40" y1="516.90" x2="460.40" y2="520.50" stroke="#161616" stroke-width="1.70"/>
<text x="462.60" y="528.10" font-size="9.60" text-anchor="end" textLength="26.91" lengthAdjust="spacingAndGlyphs" transform="rotate(-45 462.60 528.10)" fill="#161616" stroke="#161616" stroke-width="0.35">1.075</text>
<line x1="483.94" y1="516.90" x2="483.94" y2="520.50" stroke="#161616" stroke-width="1.70"/>
<text x="486.14" y="528.10" font-size="9.60" text-anchor="end" textLength="26.91" lengthAdjust="spacingAndGlyphs" transform="rotate(-45 486.14 528.10)" fill="#161616" stroke="#161616" stroke-width="0.35">1.080</text>
<line x1="507.48" y1="516.90" x2="507.48" y2="520.50" stroke="#161616" stroke-width="1.70"/>
<text x="509.68" y="528.10" font-size="9.60" text-anchor="end" textLength="26.91" lengthAdjust="spacingAndGlyphs" transform="rotate(-45 509.68 528.10)" fill="#161616" stroke="#161616" stroke-width="0.35">1.085</text>
<text x="362.09" y="566.83" font-size="12.87" textLength="126.25" lengthAdjust="spacingAndGlyphs" fill="#161616" stroke="#161616" stroke-width="0.35">Percoll density (g/ml)</text>
<text x="296.16" y="496.97" font-size="14.03" textLength="98.70" lengthAdjust="spacingAndGlyphs" transform="rotate(-90 296.16 496.97)" fill="#161616" stroke="#161616" stroke-width="0.35">Red cell denser</text>
<text x="311.19" y="495.00" font-size="13.10" textLength="95.23" lengthAdjust="spacingAndGlyphs" transform="rotate(-90 311.19 495.00)" fill="#161616" stroke="#161616" stroke-width="0.35">than Percoll (%)</text>
<text x="273.21" y="379.60" font-size="16.42" textLength="10.84" lengthAdjust="spacingAndGlyphs" font-weight="bold" fill="#050505">F</text>
<path d="M342.70,382.30 L366.24,385.66 L389.78,388.09 L413.32,426.45 L427.44,456.46 L436.86,462.79 L483.94,501.69 L507.48,516.90" stroke="#161616" stroke-width="1.50" fill="none"/>
<path d="M342.70,382.30 L366.24,386.34 L389.78,403.84 L413.32,454.71 L427.44,479.21 L436.86,500.75 L483.94,509.50 L507.48,516.90" stroke="#161616" stroke-width="1.50" fill="none"/>
<path d="M342.70,382.30 L366.24,385.66 L389.78,476.39 L413.32,487.96 L427.44,498.46 L436.86,508.96 L483.94,516.90 L507.48,516.90" stroke="#161616" stroke-width="1.50" fill="none"/>
<path d="M342.70,382.30 L366.24,387.01 L389.78,398.99 L413.32,466.16 L427.44,475.98 L436.86,490.38 L483.94,516.90 L507.48,516.90" stroke="#161616" stroke-width="1.50" fill="none"/>
<line x1="413.32" y1="411.91" x2="413.32" y2="440.99" stroke="#161616" stroke-width="1.40"/>
<line x1="410.02" y1="411.91" x2="416.62" y2="411.91" stroke="#161616" stroke-width="1.40"/>
<line x1="410.02" y1="440.99" x2="416.62" y2="440.99" stroke="#161616" stroke-width="1.40"/>
<line x1="436.86" y1="457.14" x2="436.86" y2="468.44" stroke="#161616" stroke-width="1.40"/>
<line x1="433.56" y1="457.14" x2="440.16" y2="457.14" stroke="#161616" stroke-width="1.40"/>
<line x1="433.56" y1="468.44" x2="440.16" y2="468.44" stroke="#161616" stroke-width="1.40"/>
<line x1="483.94" y1="494.56" x2="483.94" y2="508.82" stroke="#161616" stroke-width="1.40"/>
<line x1="480.64" y1="494.56" x2="487.24" y2="494.56" stroke="#161616" stroke-width="1.40"/>
<line x1="480.64" y1="508.82" x2="487.24" y2="508.82" stroke="#161616" stroke-width="1.40"/>
<line x1="389.78" y1="399.80" x2="389.78" y2="407.87" stroke="#161616" stroke-width="1.40"/>
<line x1="386.48" y1="399.80" x2="393.08" y2="399.80" stroke="#161616" stroke-width="1.40"/>
<line x1="386.48" y1="407.87" x2="393.08" y2="407.87" stroke="#161616" stroke-width="1.40"/>
<line x1="413.32" y1="447.58" x2="413.32" y2="461.85" stroke="#161616" stroke-width="1.40"/>
<line x1="410.02" y1="447.58" x2="416.62" y2="447.58" stroke="#161616" stroke-width="1.40"/>
<line x1="410.02" y1="461.85" x2="416.62" y2="461.85" stroke="#161616" stroke-width="1.40"/>
<line x1="427.44" y1="472.48" x2="427.44" y2="485.94" stroke="#161616" stroke-width="1.40"/>
<line x1="424.14" y1="472.48" x2="430.74" y2="472.48" stroke="#161616" stroke-width="1.40"/>
<line x1="424.14" y1="485.94" x2="430.74" y2="485.94" stroke="#161616" stroke-width="1.40"/>
<line x1="436.86" y1="495.36" x2="436.86" y2="506.13" stroke="#161616" stroke-width="1.40"/>
<line x1="433.56" y1="495.36" x2="440.16" y2="495.36" stroke="#161616" stroke-width="1.40"/>
<line x1="433.56" y1="506.13" x2="440.16" y2="506.13" stroke="#161616" stroke-width="1.40"/>
<line x1="483.94" y1="506.80" x2="483.94" y2="512.19" stroke="#161616" stroke-width="1.40"/>
<line x1="480.64" y1="506.80" x2="487.24" y2="506.80" stroke="#161616" stroke-width="1.40"/>
<line x1="480.64" y1="512.19" x2="487.24" y2="512.19" stroke="#161616" stroke-width="1.40"/>
<line x1="413.32" y1="481.63" x2="413.32" y2="494.29" stroke="#161616" stroke-width="1.40"/>
<line x1="410.02" y1="481.63" x2="416.62" y2="481.63" stroke="#161616" stroke-width="1.40"/>
<line x1="410.02" y1="494.29" x2="416.62" y2="494.29" stroke="#161616" stroke-width="1.40"/>
<line x1="427.44" y1="493.08" x2="427.44" y2="503.84" stroke="#161616" stroke-width="1.40"/>
<line x1="424.14" y1="493.08" x2="430.74" y2="493.08" stroke="#161616" stroke-width="1.40"/>
<line x1="424.14" y1="503.84" x2="430.74" y2="503.84" stroke="#161616" stroke-width="1.40"/>
<line x1="436.86" y1="506.27" x2="436.86" y2="511.65" stroke="#161616" stroke-width="1.40"/>
<line x1="433.56" y1="506.27" x2="440.16" y2="506.27" stroke="#161616" stroke-width="1.40"/>
<line x1="433.56" y1="511.65" x2="440.16" y2="511.65" stroke="#161616" stroke-width="1.40"/>
<line x1="366.24" y1="382.70" x2="366.24" y2="391.32" stroke="#161616" stroke-width="1.40"/>
<line x1="362.94" y1="382.70" x2="369.54" y2="382.70" stroke="#161616" stroke-width="1.40"/>
<line x1="362.94" y1="391.32" x2="369.54" y2="391.32" stroke="#161616" stroke-width="1.40"/>
<line x1="389.78" y1="394.95" x2="389.78" y2="403.03" stroke="#161616" stroke-width="1.40"/>
<line x1="386.48" y1="394.95" x2="393.08" y2="394.95" stroke="#161616" stroke-width="1.40"/>
<line x1="386.48" y1="403.03" x2="393.08" y2="403.03" stroke="#161616" stroke-width="1.40"/>
<line x1="413.32" y1="458.75" x2="413.32" y2="473.56" stroke="#161616" stroke-width="1.40"/>
<line x1="410.02" y1="458.75" x2="416.62" y2="458.75" stroke="#161616" stroke-width="1.40"/>
<line x1="410.02" y1="473.56" x2="416.62" y2="473.56" stroke="#161616" stroke-width="1.40"/>
<line x1="427.44" y1="467.91" x2="427.44" y2="484.06" stroke="#161616" stroke-width="1.40"/>
<line x1="424.14" y1="467.91" x2="430.74" y2="467.91" stroke="#161616" stroke-width="1.40"/>
<line x1="424.14" y1="484.06" x2="430.74" y2="484.06" stroke="#161616" stroke-width="1.40"/>
<line x1="436.86" y1="482.58" x2="436.86" y2="498.19" stroke="#161616" stroke-width="1.40"/>
<line x1="433.56" y1="482.58" x2="440.16" y2="482.58" stroke="#161616" stroke-width="1.40"/>
<line x1="433.56" y1="498.19" x2="440.16" y2="498.19" stroke="#161616" stroke-width="1.40"/>
<rect x="340.15" y="379.75" width="5.10" height="5.10" fill="#fff" stroke="#161616" stroke-width="1.30"/>
<rect x="363.69" y="383.11" width="5.10" height="5.10" fill="#fff" stroke="#161616" stroke-width="1.30"/>
<rect x="387.23" y="385.54" width="5.10" height="5.10" fill="#fff" stroke="#161616" stroke-width="1.30"/>
<rect x="410.77" y="423.90" width="5.10" height="5.10" fill="#fff" stroke="#161616" stroke-width="1.30"/>
<rect x="424.89" y="453.91" width="5.10" height="5.10" fill="#fff" stroke="#161616" stroke-width="1.30"/>
<rect x="434.31" y="460.24" width="5.10" height="5.10" fill="#fff" stroke="#161616" stroke-width="1.30"/>
<rect x="481.39" y="499.14" width="5.10" height="5.10" fill="#fff" stroke="#161616" stroke-width="1.30"/>
<rect x="504.93" y="514.35" width="5.10" height="5.10" fill="#fff" stroke="#161616" stroke-width="1.30"/>
<path d="M342.70,379.22 L346.20,384.82 L339.20,384.82 Z" stroke="#161616" stroke-width="1.30" fill="#fff" stroke-linejoin="miter"/>
<path d="M366.24,383.26 L369.74,388.86 L362.74,388.86 Z" stroke="#161616" stroke-width="1.30" fill="#fff" stroke-linejoin="miter"/>
<path d="M389.78,400.76 L393.28,406.36 L386.28,406.36 Z" stroke="#161616" stroke-width="1.30" fill="#fff" stroke-linejoin="miter"/>
<path d="M413.32,451.63 L416.82,457.23 L409.82,457.23 Z" stroke="#161616" stroke-width="1.30" fill="#fff" stroke-linejoin="miter"/>
<path d="M427.44,476.13 L430.94,481.73 L423.94,481.73 Z" stroke="#161616" stroke-width="1.30" fill="#fff" stroke-linejoin="miter"/>
<path d="M436.86,497.67 L440.36,503.27 L433.36,503.27 Z" stroke="#161616" stroke-width="1.30" fill="#fff" stroke-linejoin="miter"/>
<path d="M483.94,506.42 L487.44,512.02 L480.44,512.02 Z" stroke="#161616" stroke-width="1.30" fill="#fff" stroke-linejoin="miter"/>
<path d="M507.48,513.82 L510.98,519.42 L503.98,519.42 Z" stroke="#161616" stroke-width="1.30" fill="#fff" stroke-linejoin="miter"/>
<path d="M342.70,379.22 L346.20,384.82 L339.20,384.82 Z" fill="#050505"/>
<path d="M366.24,382.58 L369.74,388.18 L362.74,388.18 Z" fill="#050505"/>
<path d="M389.78,473.31 L393.28,478.91 L386.28,478.91 Z" fill="#050505"/>
<path d="M413.32,484.88 L416.82,490.48 L409.82,490.48 Z" fill="#050505"/>
<path d="M427.44,495.38 L430.94,500.98 L423.94,500.98 Z" fill="#050505"/>
<path d="M436.86,505.88 L440.36,511.48 L433.36,511.48 Z" fill="#050505"/>
<path d="M483.94,513.82 L487.44,519.42 L480.44,519.42 Z" fill="#050505"/>
<path d="M507.48,513.82 L510.98,519.42 L503.98,519.42 Z" fill="#050505"/>
<rect x="339.50" y="379.10" width="6.40" height="6.40" fill="#050505"/>
<rect x="363.04" y="383.81" width="6.40" height="6.40" fill="#050505"/>
<rect x="386.58" y="395.79" width="6.40" height="6.40" fill="#050505"/>
<rect x="410.12" y="462.96" width="6.40" height="6.40" fill="#050505"/>
<rect x="424.24" y="472.78" width="6.40" height="6.40" fill="#050505"/>
<rect x="433.66" y="487.18" width="6.40" height="6.40" fill="#050505"/>
<rect x="480.74" y="513.70" width="6.40" height="6.40" fill="#050505"/>
<rect x="504.28" y="513.70" width="6.40" height="6.40" fill="#050505"/>
<text x="419.26" y="430.25" font-size="15.05" textLength="5.86" lengthAdjust="spacingAndGlyphs" font-weight="bold" fill="#050505">*</text>
<text x="426.25" y="452.75" font-size="15.05" textLength="6.16" lengthAdjust="spacingAndGlyphs" font-weight="bold" fill="#050505">*</text>
<text x="441.76" y="460.25" font-size="15.05" textLength="5.96" lengthAdjust="spacingAndGlyphs" font-weight="bold" fill="#050505">*</text>
<text x="395.55" y="391.82" font-size="15.59" textLength="6.16" lengthAdjust="spacingAndGlyphs" font-weight="bold" fill="#050505">*</text>
<line x1="453.50" y1="384.30" x2="464.70" y2="384.30" stroke="#161616" stroke-width="1.50"/>
<path d="M458.90,381.40 L462.20,386.68 L455.60,386.68 Z" fill="#050505"/>
<line x1="453.50" y1="402.60" x2="464.70" y2="402.60" stroke="#161616" stroke-width="1.50"/>
<rect x="456.10" y="399.60" width="6.00" height="6.00" fill="#050505"/>
<line x1="453.50" y1="422.90" x2="464.70" y2="422.90" stroke="#161616" stroke-width="1.50"/>
<path d="M458.90,420.00 L462.20,425.28 L455.60,425.28 Z" stroke="#161616" stroke-width="1.30" fill="#fff" stroke-linejoin="miter"/>
<line x1="453.50" y1="443.60" x2="464.70" y2="443.60" stroke="#161616" stroke-width="1.50"/>
<rect x="456.75" y="441.25" width="4.70" height="4.70" fill="#fff" stroke="#161616" stroke-width="1.30"/>
<text x="471.18" y="387.60" font-size="12.21" textLength="16.45" lengthAdjust="spacingAndGlyphs" fill="#161616" stroke="#161616" stroke-width="0.35">AA</text>
<text x="490.01" y="387.81" font-size="9.67" textLength="17.59" lengthAdjust="spacingAndGlyphs" fill="#161616" stroke="#161616" stroke-width="0.35">+/+</text>
<text x="471.18" y="407.60" font-size="12.50" textLength="16.45" lengthAdjust="spacingAndGlyphs" fill="#161616" stroke="#161616" stroke-width="0.35">AA</text>
<text x="489.97" y="407.60" font-size="10.35" textLength="21.99" lengthAdjust="spacingAndGlyphs" fill="#161616" stroke="#161616" stroke-width="0.35">+/m</text>
<text x="471.18" y="426.68" font-size="12.01" textLength="16.08" lengthAdjust="spacingAndGlyphs" fill="#161616" stroke="#161616" stroke-width="0.35">AS</text>
<text x="490.40" y="426.81" font-size="8.99" textLength="17.70" lengthAdjust="spacingAndGlyphs" fill="#161616" stroke="#161616" stroke-width="0.35">+/+</text>
<text x="471.18" y="447.48" font-size="12.15" textLength="16.08" lengthAdjust="spacingAndGlyphs" fill="#161616" stroke="#161616" stroke-width="0.35">AS</text>
<text x="490.36" y="447.61" font-size="9.67" textLength="22.10" lengthAdjust="spacingAndGlyphs" fill="#161616" stroke="#161616" stroke-width="0.35">+/m</text>
</svg></body></html>
